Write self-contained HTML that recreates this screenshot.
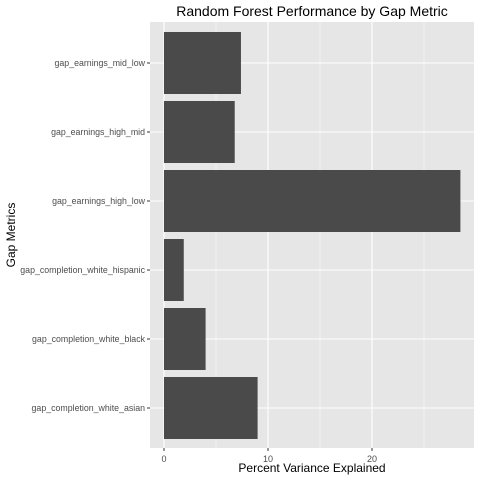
<!DOCTYPE html>
<html><head><meta charset="utf-8"><style>
body{margin:0;background:#fff;}
svg{display:block;font-family:"Liberation Sans",Arial,sans-serif;}
</style></head><body>
<svg id="chart" width="480" height="480">
<text x="312" y="16" text-anchor="middle" font-size="14" fill="#000">Random Forest Performance by Gap Metric</text>
<rect x="150" y="22" width="324" height="426" fill="#e6e6e6"/>
<g id="grid"></g><g id="bars"></g><g id="yaxis"></g><g id="xaxis"></g>
<text x="312" y="472" text-anchor="middle" font-size="12" fill="#000">Percent Variance Explained</text>
<text transform="translate(15,235) rotate(-90)" text-anchor="middle" font-size="12" fill="#000">Gap Metrics</text>
</svg>
<script>
const categories=["gap_earnings_mid_low","gap_earnings_high_mid","gap_earnings_high_low","gap_completion_white_hispanic","gap_completion_white_black","gap_completion_white_asian"];
const values=[7.4,6.8,28.5,1.9,4.0,9.0];
const xTicks=[0,10,20];
const NS="http://www.w3.org/2000/svg";
const x=v=>164+v*10.4;
const y=i=>63+i*69;
const bw=62;
function mk(tag,attrs,parent){const e=document.createElementNS(NS,tag);for(const k in attrs)e.setAttribute(k,attrs[k]);document.getElementById(parent).appendChild(e);return e;}
[5,15,25].forEach(v=>{const l=mk('line',{x1:x(v),x2:x(v),y1:22,y2:448,stroke:'#f6f6f6','stroke-width':0.8},'grid');

});
xTicks.forEach(v=>{const l=mk('line',{x1:x(v),x2:x(v),y1:22,y2:448,stroke:'#fff','stroke-width':1.1},'grid');


const t=mk('line',{x1:x(v),x2:x(v),y1:448,y2:451,stroke:'#333'},'xaxis');


const tx=mk('text',{x:x(v),y:462,'text-anchor':'middle','font-size':9,fill:'#4d4d4d'},'xaxis');tx.textContent=v;

});
categories.forEach((c,i)=>{const l=mk('line',{x1:150,x2:474,y1:y(i),y2:y(i),stroke:'#fff','stroke-width':1.1},'grid');


const r=mk('rect',{x:x(0),y:y(i)-bw/2,width:x(values[i])-x(0),height:bw,fill:'#4a4a4a'},'bars');


const t=mk('line',{x1:147,x2:150,y1:y(i),y2:y(i),stroke:'#333'},'yaxis');


const tx=mk('text',{x:145,y:y(i)+3,'text-anchor':'end','font-size':8.8,fill:'#4d4d4d'},'yaxis');tx.textContent=c;

});
</script>
</body></html>
